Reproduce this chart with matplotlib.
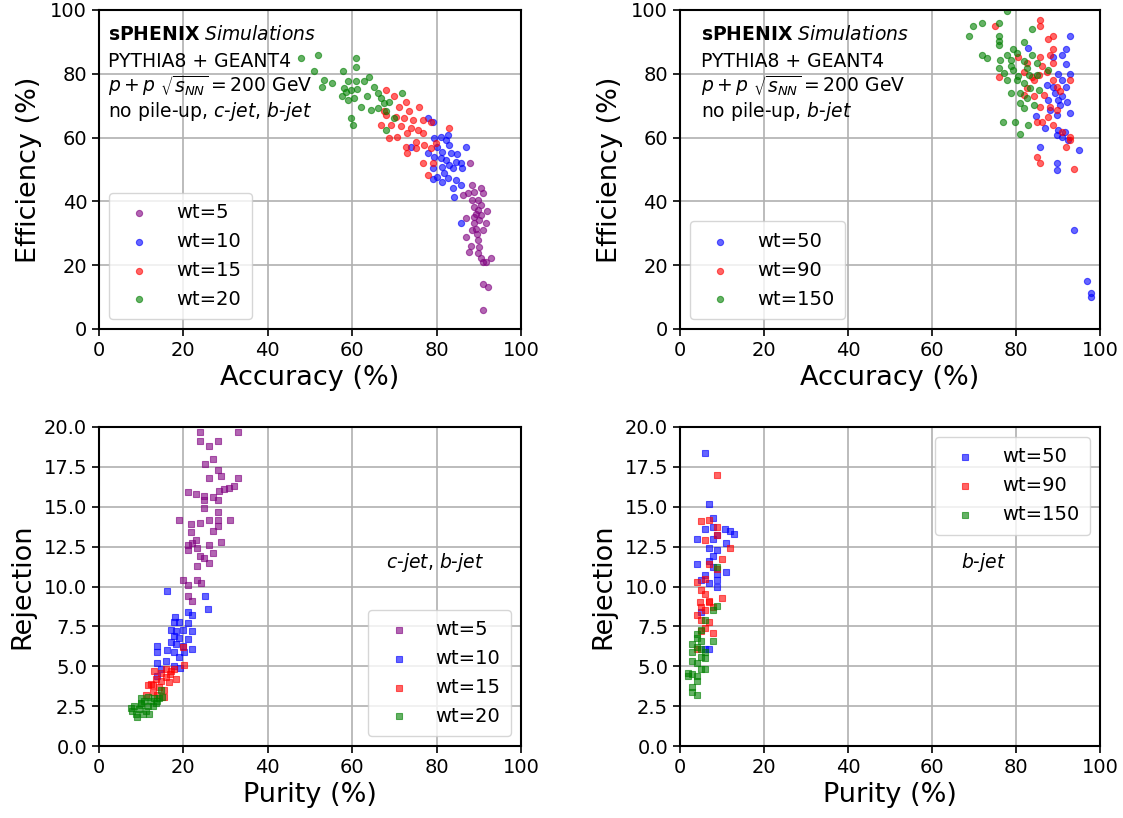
import numpy as np
import matplotlib
matplotlib.use("Agg")
import matplotlib.pyplot as plt

# ---- top left: accuracy vs efficiency, c-jet + b-jet ----
acc_w5 = [87.9, 88.5, 90.5, 90.9, 88.9, 87.4, 86.2, 89.7, 88.5, 90.5, 88.9, 91.9, 86.9, 88.9, 90.1,
          91.7, 88.9, 90.9, 86.9, 89.6, 88.1, 90.1, 87.7, 89.9, 90.5, 92.9, 90.9, 91.7, 90.9, 92.1,
          90.9, 89.3, 89.7, 90.5, 88.5, 89.7, 89.3]
eff_w5 = [51.9, 45.1, 44.1, 42.5, 43.0, 42.5, 42.0, 40.4, 40.4, 38.8, 38.3, 37.1, 34.7, 35.2, 34.1,
          33.1, 33.1, 31.0, 28.9, 29.9, 26.0, 25.8, 24.2, 23.7, 22.1, 22.1, 21.0, 21.0, 14.2, 13.2,
          6.1, 36.2, 37.3, 35.7, 31.0, 27.9, 31.5]
acc_w10 = [77.9, 79.1, 81.0, 79.4, 82.2, 83.0, 86.9, 80.2, 77.9, 81.4, 83.4, 84.9, 79.4, 81.0, 82.2,
           84.7, 85.8, 83.0, 79.1, 81.4, 83.8, 86.1, 81.8, 80.2, 82.6, 79.1, 84.6, 81.4, 83.8, 85.8,
           84.2, 85.8, 73.9, 82.6]
eff_w10 = [66.1, 65.0, 60.3, 59.8, 59.3, 57.7, 57.2, 57.2, 55.1, 55.6, 55.1, 54.9, 54.0, 53.5, 53.0,
           52.5, 51.9, 51.4, 50.4, 50.9, 50.4, 50.4, 48.8, 47.7, 47.2, 46.9, 46.7, 46.2, 44.1, 45.1,
           41.5, 33.1, 57.2, 60.8]
acc_w15 = [68.0, 69.9, 72.7, 71.1, 75.9, 73.5, 67.6, 70.4, 72.3, 74.3, 76.7, 78.7, 66.8, 69.2, 71.5,
           73.9, 75.5, 83.0, 73.1, 76.7, 68.8, 70.7, 75.1, 79.8, 77.1, 72.7, 78.6, 75.1, 72.9, 76.7,
           79.1, 77.9, 68.0]
eff_w15 = [75.0, 72.9, 71.3, 69.7, 69.7, 68.2, 68.2, 66.6, 66.1, 65.5, 65.5, 65.0, 64.0, 64.0, 63.5,
           62.9, 62.4, 62.9, 61.4, 61.4, 59.8, 60.3, 58.7, 58.2, 57.7, 57.2, 56.6, 56.6, 55.1, 51.9,
           51.9, 48.3, 67.1]
acc_w20 = [47.8, 51.9, 51.0, 57.9, 60.9, 61.0, 53.4, 55.1, 52.9, 58.9, 60.9, 62.8, 64.0, 58.1, 59.7,
           61.2, 65.2, 66.0, 57.7, 60.5, 63.6, 66.8, 71.9, 68.8, 62.1, 64.4, 66.0, 67.9, 69.9, 59.7,
           60.1, 68.0, 58.9, 67.6, 58.5]
eff_w20 = [84.9, 86.0, 81.0, 81.0, 84.9, 82.0, 78.1, 77.1, 75.8, 77.6, 77.6, 77.6, 79.0, 75.5, 75.0,
           75.2, 75.8, 74.1, 72.9, 72.4, 72.9, 72.4, 73.9, 71.3, 69.7, 68.7, 69.2, 68.2, 66.1, 66.1,
           64.0, 62.4, 71.8, 70.8, 74.4]

# ---- top right: accuracy vs efficiency, b-jet ----
acc_w50 = [92.9, 91.9, 90.9, 91.9, 82.8, 88.9, 92.9, 90.1, 90.9, 88.9, 91.9, 89.3, 90.9, 90.1, 92.1,
           87.7, 90.5, 92.9, 89.7, 84.8, 86.9, 90.1, 91.7, 89.7, 92.5, 90.9, 94.9, 85.8, 89.7, 89.7,
           93.8, 96.8, 97.8, 97.9, 87.4, 88.1]
eff_w50 = [92.0, 87.9, 86.0, 83.1, 88.1, 85.4, 80.0, 80.0, 78.1, 76.0, 76.0, 73.9, 72.9, 71.8, 71.3,
           71.8, 70.3, 67.6, 67.1, 66.8, 62.9, 62.4, 61.9, 60.8, 59.3, 60.1, 56.1, 57.2, 51.9, 49.8,
           31.0, 15.0, 11.3, 10.1, 76.5, 68.7]
acc_w90 = [85.8, 85.8, 74.9, 88.9, 87.7, 88.9, 80.6, 85.8, 88.1, 82.6, 86.2, 88.9, 81.8, 85.4, 87.4,
           75.9, 84.2, 88.9, 92.9, 82.6, 89.7, 84.2, 86.6, 90.5, 85.8, 88.1, 89.7, 87.7, 84.9, 86.1,
           88.9, 90.9, 92.9, 92.9, 91.9, 84.9, 85.8, 93.8, 83.8, 81.8]
eff_w90 = [97.0, 94.9, 94.9, 92.0, 91.0, 87.9, 85.4, 85.4, 86.0, 83.4, 82.3, 83.4, 80.7, 79.7, 80.7,
           79.0, 78.1, 78.1, 78.1, 75.5, 76.0, 72.9, 73.4, 74.5, 69.7, 69.7, 68.7, 66.6, 65.0, 65.0,
           64.0, 61.9, 60.3, 59.3, 57.2, 54.0, 51.9, 50.1, 79.0, 73.4]
acc_w150 = [77.9, 68.8, 69.8, 71.9, 75.9, 75.9, 75.9, 75.9, 83.8, 81.8, 79.4, 71.9, 73.1, 77.9, 80.2,
            83.8, 76.3, 78.7, 81.8, 85.0, 78.7, 75.9, 82.6, 87.7, 77.1, 79.4, 80.6, 83.0, 85.0, 77.9,
            81.8, 83.4, 85.4, 78.7, 81.0, 82.6, 81.0, 84.2, 81.8, 76.9, 79.8, 82.8, 81.0, 80.2]
eff_w150 = [99.6, 92.0, 95.1, 95.9, 95.9, 92.0, 90.2, 89.1, 94.0, 89.9, 87.9, 86.0, 84.9, 86.0, 86.5,
            86.0, 84.4, 84.4, 83.9, 83.4, 82.3, 81.8, 81.8, 81.3, 80.2, 81.3, 79.2, 79.7, 79.7, 78.1,
            77.1, 75.5, 75.0, 73.9, 73.9, 72.4, 70.8, 70.3, 69.2, 65.0, 65.0, 64.0, 61.0, 78.1]

# ---- bottom left: purity vs rejection, c-jet + b-jet ----
pur_w5 = [24.0, 33.0, 24.0, 26.1, 28.1, 25.1, 27.1, 28.1, 26.1, 28.9, 33.0, 32.0, 30.9, 29.7, 28.5,
          21.0, 22.9, 24.9, 26.9, 24.9, 28.1, 24.9, 28.1, 19.0, 21.9, 24.0, 26.1, 28.1, 31.0, 28.1,
          27.1, 21.9, 22.9, 22.1, 21.0, 28.9, 26.1, 23.3, 21.0, 27.1, 24.0, 24.9, 26.1, 23.1, 20.0,
          23.1, 21.0, 24.1, 21.0, 22.0]
rej_w5 = [19.7, 19.7, 19.1, 18.8, 19.1, 17.7, 18.0, 17.3, 16.8, 16.9, 16.8, 16.3, 16.2, 16.1, 16.0,
          15.9, 15.8, 15.7, 15.6, 15.4, 15.4, 14.9, 14.7, 14.2, 13.9, 14.0, 14.2, 14.2, 14.2, 13.8,
          13.5, 13.4, 12.9, 12.7, 12.6, 12.8, 12.6, 12.4, 12.3, 12.1, 11.9, 11.8, 11.5, 11.3, 10.4,
          10.4, 10.1, 10.2, 9.4, 9.1]
pur_w10 = [16.1, 25.1, 25.9, 21.0, 22.0, 18.0, 19.0, 17.8, 21.1, 17.0, 18.2, 20.0, 22.0, 17.8, 19.0,
           21.0, 17.0, 13.8, 18.2, 20.0, 22.0, 13.8, 16.2, 17.8, 20.2, 19.0, 13.8, 15.8, 19.2, 17.8,
           14.6, 13.8]
rej_w10 = [9.7, 9.4, 8.6, 8.4, 8.2, 8.1, 7.8, 7.8, 7.7, 7.3, 7.2, 7.3, 7.2, 6.9, 6.8,
           6.7, 6.5, 6.3, 6.4, 6.3, 6.1, 5.9, 6.0, 5.9, 5.9, 5.6, 5.2, 5.3, 4.9, 5.0,
           4.8, 4.4]
pur_w15 = [20.0, 20.2, 15.8, 17.8, 13.1, 14.6, 16.8, 15.8, 18.2, 13.4, 14.6, 16.6, 11.5, 12.9, 14.2,
           15.5, 12.7, 11.1, 13.8, 15.3, 12.3, 17.0]
rej_w15 = [6.2, 5.1, 4.8, 4.8, 4.7, 4.6, 4.5, 4.3, 4.2, 4.2, 4.1, 4.0, 3.8, 3.8, 3.7,
           3.5, 3.4, 3.2, 3.2, 3.1, 3.9, 4.7]
pur_w20 = [9.9, 11.5, 13.1, 14.6, 14.2, 10.7, 12.3, 13.4, 8.3, 9.9, 11.5, 12.7, 7.5, 9.5, 11.1,
           7.9, 10.3, 11.9, 8.7, 8.9, 9.9, 13.8, 15.0]
rej_w20 = [3.0, 3.1, 3.0, 3.5, 3.0, 2.8, 2.8, 2.7, 2.5, 2.6, 2.5, 2.5, 2.4, 2.3, 2.2,
           2.2, 2.0, 2.0, 2.0, 1.8, 2.7, 2.8, 3.1]

# ---- bottom right: purity vs rejection, b-jet ----
pur_w50 = [5.9, 7.0, 7.9, 5.9, 7.9, 10.8, 11.9, 12.9, 4.0, 8.9, 7.9, 10.9, 7.0, 8.9, 7.9,
           4.0, 7.0, 7.9, 10.9, 8.9, 5.9, 8.9, 5.0, 8.9, 7.0, 5.0, 5.9, 7.0]
rej_w50 = [18.4, 15.2, 14.3, 13.6, 13.7, 13.6, 13.5, 13.3, 13.0, 13.2, 13.0, 12.7, 12.4, 12.3, 11.9,
           11.4, 11.6, 11.2, 10.9, 10.8, 10.7, 10.4, 10.4, 10.0, 10.2, 8.4, 6.1, 6.1]
pur_w90 = [8.9, 5.0, 7.0, 8.9, 5.9, 8.9, 11.9, 10.1, 7.0, 8.9, 4.0, 5.9, 5.0, 5.9, 10.1,
           4.7, 7.0, 5.0, 7.9, 5.9, 4.0, 5.0, 7.0, 5.9, 7.9, 5.0, 4.0, 7.0]
rej_w90 = [17.0, 14.1, 14.2, 13.7, 12.9, 13.2, 12.4, 11.7, 11.4, 11.1, 10.3, 10.5, 9.8, 9.5, 9.3,
           9.0, 9.1, 8.7, 8.7, 8.5, 8.2, 7.9, 7.8, 7.4, 7.1, 7.2, 6.1, 9.0]
pur_w150 = [8.9, 8.9, 7.9, 5.9, 5.0, 4.0, 7.9, 2.9, 5.0, 4.0, 2.9, 5.9, 5.0, 2.9, 4.0,
            5.9, 5.9, 1.9, 2.9, 4.0, 5.0, 4.0, 2.9, 2.9, 4.0, 1.9, 5.0, 4.0]
rej_w150 = [11.2, 8.8, 8.5, 7.9, 7.3, 7.0, 6.6, 6.4, 6.6, 6.2, 5.9, 5.9, 5.6, 5.3, 5.2,
            5.5, 4.8, 4.6, 4.5, 4.4, 4.8, 4.1, 3.7, 3.4, 3.2, 4.4, 6.1, 6.8]

fig = plt.figure(figsize=(11.23, 8.18), dpi=100)
ax_tl = fig.add_axes([0.0882, 0.5978, 0.3757, 0.390])
ax_tr = fig.add_axes([0.6055, 0.5978, 0.3740, 0.390])
ax_bl = fig.add_axes([0.0882, 0.0880, 0.3757, 0.390])
ax_br = fig.add_axes([0.6055, 0.0880, 0.3740, 0.390])

circ = dict(marker='o', s=20, alpha=0.6, linewidths=0.8)
sq = dict(marker='s', s=14, alpha=0.6, linewidths=0.8)

ax_tl.scatter(acc_w5, eff_w5, color='purple', label='wt=5', **circ)
ax_tl.scatter(acc_w10, eff_w10, color='blue', label='wt=10', **circ)
ax_tl.scatter(acc_w15, eff_w15, color='red', label='wt=15', **circ)
ax_tl.scatter(acc_w20, eff_w20, color='green', label='wt=20', **circ)

ax_tr.scatter(acc_w50, eff_w50, color='blue', label='wt=50', **circ)
ax_tr.scatter(acc_w90, eff_w90, color='red', label='wt=90', **circ)
ax_tr.scatter(acc_w150, eff_w150, color='green', label='wt=150', **circ)

ax_bl.scatter(pur_w5, rej_w5, color='purple', label='wt=5', **sq)
ax_bl.scatter(pur_w10, rej_w10, color='blue', label='wt=10', **sq)
ax_bl.scatter(pur_w15, rej_w15, color='red', label='wt=15', **sq)
ax_bl.scatter(pur_w20, rej_w20, color='green', label='wt=20', **sq)

ax_br.scatter(pur_w50, rej_w50, color='blue', label='wt=50', **sq)
ax_br.scatter(pur_w90, rej_w90, color='red', label='wt=90', **sq)
ax_br.scatter(pur_w150, rej_w150, color='green', label='wt=150', **sq)

for ax in [ax_tl, ax_tr]:
    ax.set_xlim(0, 100)
    ax.set_ylim(0, 100)
    ax.set_xlabel('Accuracy (%)', fontsize=19.5)
    ax.set_ylabel('Efficiency (%)', fontsize=19.5, labelpad=6)

for ax in [ax_bl, ax_br]:
    ax.set_xlim(0, 100)
    ax.set_ylim(0, 20)
    ax.set_yticks(np.arange(0, 20.1, 2.5))
    ax.set_xlabel('Purity (%)', fontsize=19.5)
    ax.set_ylabel('Rejection', fontsize=19.5, labelpad=6)

for ax in [ax_tl, ax_tr, ax_bl, ax_br]:
    ax.set_xticks(np.arange(0, 101, 20))
    ax.grid(True, color='#b0b0b0', linewidth=1.2)
    ax.set_axisbelow(True)
    ax.tick_params(labelsize=14, width=1.2, length=5)
    for sp in ax.spines.values():
        sp.set_linewidth(1.5)

def header(ax, x0, last):
    kw = dict(transform=ax.transAxes, fontsize=13.5, va='center')
    ax.text(x0, 0.922, r'$\bf{sPHENIX}$ $\it{Simulations}$', **kw)
    ax.text(x0, 0.840, 'PYTHIA8 + GEANT4', **kw)
    ax.text(x0, 0.763, r'$p+p\ \sqrt{s_{NN}}=200$ GeV', **kw)
    ax.text(x0, 0.683, last, **kw)

header(ax_tl, 0.022, r'no pile-up, $\it{c}$-$\it{jet}$, $\it{b}$-$\it{jet}$')
header(ax_tr, 0.05, r'no pile-up, $\it{b}$-$\it{jet}$')
ax_bl.text(68, 11.5, r'$\it{c}$-$\it{jet}$, $\it{b}$-$\it{jet}$', fontsize=13.5, va='center')
ax_br.text(67, 11.5, r'$\it{b}$-$\it{jet}$', fontsize=13.5, va='center')

leg_kw = dict(fontsize=14, scatterpoints=1, handletextpad=0.9, borderpad=0.55, framealpha=0.8)
ax_tl.legend(loc='lower left', **leg_kw)
ax_tr.legend(loc='lower left', **leg_kw)
ax_bl.legend(loc='lower right', **leg_kw)
ax_br.legend(loc='upper right', **leg_kw)

fig.savefig('out.png', dpi=100)
